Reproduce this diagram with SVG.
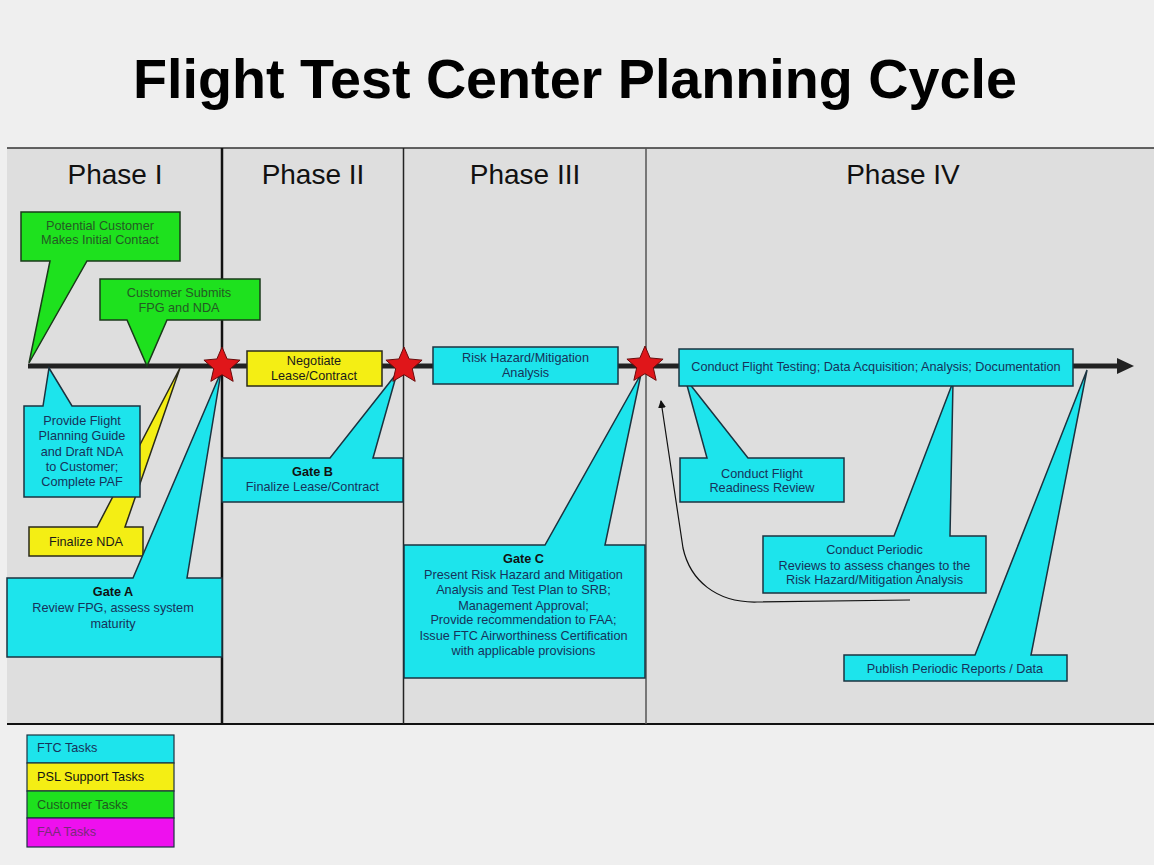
<svg xmlns="http://www.w3.org/2000/svg" width="1154" height="865" viewBox="0 0 1154 865">
<defs>
<style>
text{font-family:"Liberation Sans",Arial,sans-serif;}
.t{font-size:12.7px;text-anchor:middle;}
.tc{fill:#17325a;}
.tg{fill:#245a24;}
.ty{fill:#1a1a1a;}
.b{font-weight:bold;fill:#111;}
.cy{fill:#1de4ec;stroke:#1b3340;stroke-width:1.5;stroke-linejoin:miter;}
.ye{fill:#f4ee14;stroke:#2a2a1a;stroke-width:1.5;}
.gr{fill:#1ee11e;stroke:#1a3a1a;stroke-width:1.5;}
.ph{font-size:28px;text-anchor:middle;fill:#111;}
.lg{font-size:12.7px;}
</style>
<polygon id="star" points="0,-19 5.12,-7.05 18.07,-5.87 8.29,2.69 11.17,15.37 0,8.7 -11.17,15.37 -8.29,2.69 -18.07,-5.87 -5.12,-7.05" fill="#e0161a" stroke="#6a0a0a" stroke-width="1"/>
<marker id="ah" markerWidth="8" markerHeight="8" refX="7" refY="4" orient="auto" markerUnits="userSpaceOnUse">
<path d="M0,0 L8,4 L0,8 Z" fill="#111"/>
</marker>
</defs>

<rect x="0" y="0" width="1154" height="865" fill="#efefef"/>
<text x="575" y="98" font-size="55.7" font-weight="bold" text-anchor="middle" fill="#000">Flight Test Center Planning Cycle</text>

<g id="phases">
<rect x="7" y="148" width="1147" height="576" fill="#dedede"/>
<line x1="7" y1="148" x2="1154" y2="148" stroke="#333" stroke-width="1.5"/>
<line x1="7" y1="724" x2="1154" y2="724" stroke="#111" stroke-width="2"/>
<line x1="222" y1="148" x2="222" y2="724" stroke="#111" stroke-width="2.5"/>
<line x1="403.5" y1="148" x2="403.5" y2="724" stroke="#222" stroke-width="1.5"/>
<line x1="646" y1="148" x2="646" y2="724" stroke="#555" stroke-width="1.5"/>
<text class="ph" x="115" y="184">Phase I</text>
<text class="ph" x="313" y="184">Phase II</text>
<text class="ph" x="525" y="184">Phase III</text>
<text class="ph" x="903" y="184">Phase IV</text>
</g>

<g id="connectors">
<line x1="28" y1="366" x2="1120" y2="366" stroke="#222" stroke-width="5"/>
<path d="M1117,358 L1134,366 L1117,374 Z" fill="#222"/>
<path d="M910,600 L757,602 C716,603 690,580 683,548 L661,401" fill="none" stroke="#111" stroke-width="1.2" marker-end="url(#ah)"/>
</g>

<g id="node-potential-customer">
<path class="gr" d="M21,212 H180 V261 H87 L29,363 L50,261 H21 Z"/>
<text class="t tg" x="100" y="229.5">Potential Customer</text>
<text class="t tg" x="100" y="244">Makes Initial Contact</text>
</g>

<g id="node-customer-submits">
<path class="gr" d="M100,279 H260 V320 H167 L147,366 L127,320 H100 Z"/>
<text class="t tg" x="179" y="297">Customer Submits</text>
<text class="t tg" x="179" y="312">FPG and NDA</text>
</g>

<g id="node-finalize-nda">
<path class="ye" d="M29,527 H97 L180,368 L125,527 H143 V556 H29 Z"/>
<text class="t ty" x="86" y="545.5">Finalize NDA</text>
</g>

<g id="node-provide-fpg">
<path class="cy" d="M24,406 H43 L49,368 L72,406 H140 V497 H24 Z"/>
<text class="t tc" x="82" y="425">Provide Flight</text>
<text class="t tc" x="82" y="440">Planning Guide</text>
<text class="t tc" x="82" y="455.5">and Draft NDA</text>
<text class="t tc" x="82" y="471">to Customer;</text>
<text class="t tc" x="82" y="486">Complete PAF</text>
</g>

<g id="node-gate-a">
<path class="cy" d="M7,578 H133 L221,372 L187,578 H222 V657 H7 Z"/>
<text class="t b" x="113" y="596">Gate A</text>
<text class="t tc" x="113" y="612">Review FPG, assess system</text>
<text class="t tc" x="113" y="628">maturity</text>
</g>

<g id="node-negotiate">
<rect class="ye" x="247" y="351" width="135" height="35"/>
<text class="t ty" x="314" y="365">Negotiate</text>
<text class="t ty" x="314" y="379.5">Lease/Contract</text>
</g>

<g id="node-gate-b">
<path class="cy" d="M222,458 H330 L397,373 L373,458 H403 V502 H222 Z"/>
<text class="t b" x="312.5" y="476">Gate B</text>
<text class="t tc" x="312.5" y="491">Finalize Lease/Contract</text>
</g>

<g id="node-risk-hazard">
<rect class="cy" x="433" y="347" width="185" height="37"/>
<text class="t tc" x="525.5" y="362">Risk Hazard/Mitigation</text>
<text class="t tc" x="525.5" y="377">Analysis</text>
</g>

<g id="node-gate-c">
<path class="cy" d="M404,545 H545 L641,374 L605,545 H645 V678 H404 Z"/>
<text class="t b" x="523.5" y="563">Gate C</text>
<text class="t tc" x="523.5" y="578.5">Present Risk Hazard and Mitigation</text>
<text class="t tc" x="523.5" y="594">Analysis and Test Plan to SRB;</text>
<text class="t tc" x="523.5" y="609.5">Management Approval;</text>
<text class="t tc" x="523.5" y="624">Provide recommendation to FAA;</text>
<text class="t tc" x="523.5" y="639.5">Issue FTC Airworthiness Certification</text>
<text class="t tc" x="523.5" y="655">with applicable provisions</text>
</g>

<g id="node-readiness-review">
<path class="cy" d="M680,458 H707 L685,378 L748,458 H844 V502 H680 Z"/>
<text class="t tc" x="762" y="478">Conduct Flight</text>
<text class="t tc" x="762" y="492">Readiness Review</text>
</g>

<g id="node-periodic-reviews">
<path class="cy" d="M763,536 H894 L953,382 L950,536 H986 V593 H763 Z"/>
<text class="t tc" x="874.5" y="554">Conduct Periodic</text>
<text class="t tc" x="874.5" y="569.5">Reviews to assess changes to the</text>
<text class="t tc" x="874.5" y="584">Risk Hazard/Mitigation Analysis</text>
</g>

<g id="node-publish-reports">
<path class="cy" d="M844,655 H975 L1087,370 L1031,655 H1067 V681 H844 Z"/>
<text class="t tc" x="955" y="673">Publish Periodic Reports / Data</text>
</g>

<g id="node-flight-testing">
<rect class="cy" x="679" y="349" width="394" height="37"/>
<text class="t tc" x="876" y="371">Conduct Flight Testing; Data Acquisition; Analysis; Documentation</text>
</g>

<g id="gates">
<use href="#star" x="222" y="366"/>
<use href="#star" x="404" y="366"/>
<use href="#star" x="645" y="365"/>
</g>

<g id="legend">
<rect x="27" y="735" width="147" height="28" fill="#1de4ec" stroke="#1b3340" stroke-width="1.2"/>
<rect x="27" y="763" width="147" height="28" fill="#f4ee14" stroke="#1b3340" stroke-width="1.2"/>
<rect x="27" y="791" width="147" height="27" fill="#1ee11e" stroke="#1b3340" stroke-width="1.2"/>
<rect x="27" y="818" width="147" height="29" fill="#ee10ee" stroke="#1b3340" stroke-width="1.2"/>
<text class="lg" x="37" y="752" fill="#17325a">FTC Tasks</text>
<text class="lg" x="37" y="781" fill="#111">PSL Support Tasks</text>
<text class="lg" x="37" y="808.5" fill="#1f5a1f">Customer Tasks</text>
<text class="lg" x="37" y="836" fill="#7a2a7a">FAA Tasks</text>
</g>
</svg>
